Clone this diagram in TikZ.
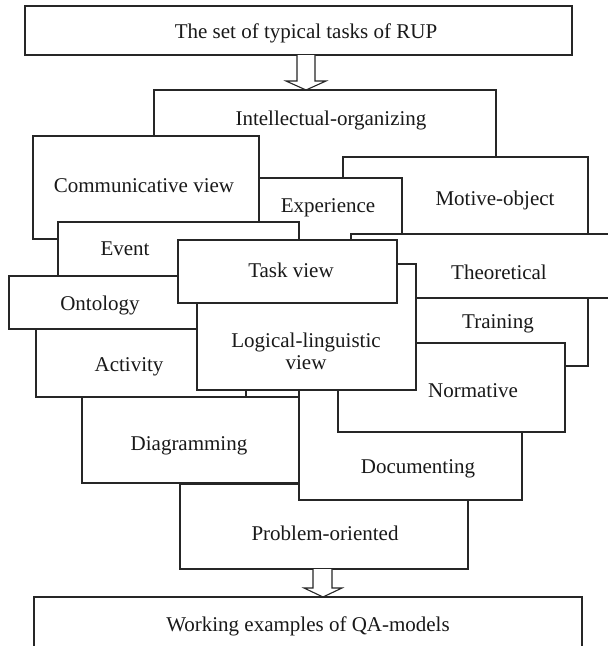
\documentclass[tikz,border=0pt]{standalone}
\usepackage{fontspec}
\setmainfont{Liberation Serif}
\begin{document}
\begin{tikzpicture}[x=1pt,y=-1pt,
  blk/.style={draw=black!85, line width=1.1pt, fill=white},
  thick box/.style={blk, line width=2.1pt},
  lbl/.style={anchor=base, inner sep=0pt, text=black!90,
    font=\fontsize{21}{22}\selectfont},
  blockarrow/.style={draw=black!85, line width=1.1pt, fill=white, line join=miter}]
\useasboundingbox[fill=white] (0,0) rectangle (608,646);
\clip (0,0) rectangle (608,646);

% source of the tasks
\path[blk] (25,6) rectangle (572,55);
\node[lbl] (tTop) at (306,38) {The set of typical tasks of RUP};
\coordinate (a1s) at (306,55);
\coordinate (a1e) at (306,90);
\path[blockarrow] ([xshift=-9pt]a1s) -- ([xshift=-9pt,yshift=-26pt]a1s)
  -- ([xshift=-20pt,yshift=-26pt]a1s) -- (a1e) -- ([xshift=20pt,yshift=-26pt]a1s)
  -- ([xshift=9pt,yshift=-26pt]a1s) -- ([xshift=9pt]a1s);

% overlapping layers, back to front
\path[blk] (154,90) rectangle (496,260);
\node[lbl] (tInt) at (331,125) {Intellectual-organizing};

\path[blk] (33,136) rectangle (259,239);
\node[lbl] (tCom) at (144,192) {Communicative view};

\path[blk] (343,157) rectangle (588,260);
\node[lbl] (tMot) at (495,205) {Motive-object};

\path[blk] (259,178) rectangle (402,260);
\node[lbl] (tExp) at (328,212) {Experience};

\path[blk] (58,222) rectangle (299,290);
\node[lbl] (tEve) at (125,255) {Event};

\path[blk] (351,234) rectangle (660,298);
\node[lbl] (tThe) at (499,279) {Theoretical};

\path[blk] (9,276) rectangle (250,329);
\node[lbl] (tOnt) at (100,310) {Ontology};

\path[blk] (36,329) rectangle (246,397);
\node[lbl] (tAct) at (129,371) {Activity};

\path[blk] (180,484) rectangle (468,569);
\node[lbl] (tPro) at (325,540) {Problem-oriented};

\path[blk] (82,397) rectangle (299,483);
\node[lbl] (tDia) at (189,450) {Diagramming};

\path[blk] (299,380) rectangle (522,500);
\node[lbl] (tDoc) at (418,473) {Documenting};

\path[blk] (416,298) rectangle (588,366);
\node[lbl] (tTra) at (498,328) {Training};

\path[blk] (338,343) rectangle (565,432);
\node[lbl] (tNor) at (473,397) {Normative};

\path[thick box] (197,264) rectangle (416,390);
\node[lbl] (tLog1) at (306,347) {Logical-linguistic};
\node[lbl] (tLog2) at (306,369) {view};

\path[thick box] (178,240) rectangle (397,303);
\node[lbl] (tTas) at (291,277) {Task view};

% result
\coordinate (a2s) at (323,569);
\coordinate (a2e) at (323,597);
\path[blockarrow] ([xshift=-10pt]a2s) -- ([xshift=-10pt,yshift=-19pt]a2s)
  -- ([xshift=-19pt,yshift=-19pt]a2s) -- (a2e) -- ([xshift=19pt,yshift=-19pt]a2s)
  -- ([xshift=9pt,yshift=-19pt]a2s) -- ([xshift=9pt]a2s);
\path[blk] (34,597) rectangle (582,670);
\node[lbl] (tWor) at (308,631) {Working examples of QA-models};
\end{tikzpicture}
\end{document}
